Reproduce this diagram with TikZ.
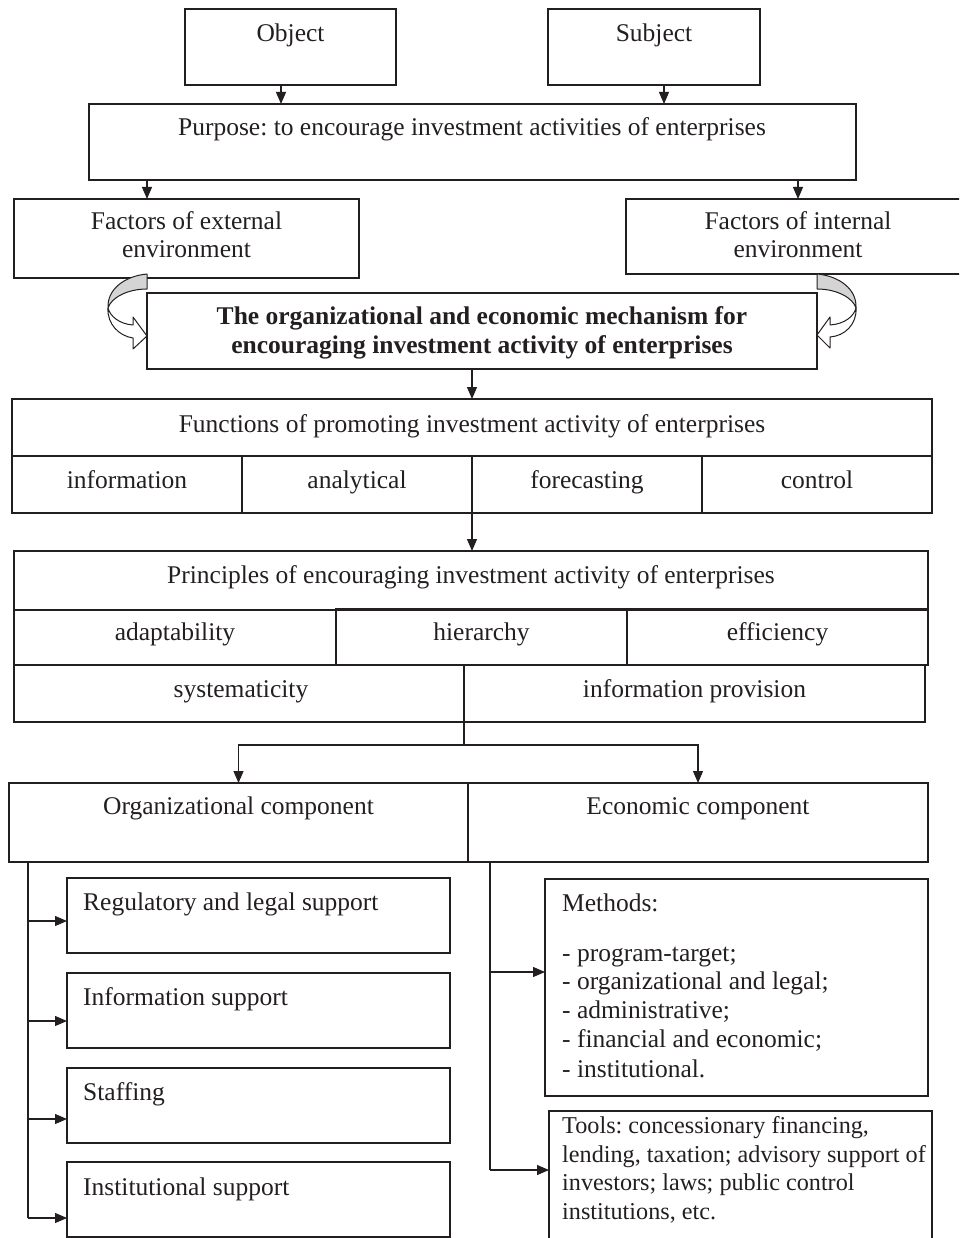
\documentclass[tikz,border=0pt]{standalone}
\usepackage{fontspec}
\setmainfont{Liberation Serif}
\usetikzlibrary{arrows.meta,calc}
\definecolor{ink}{RGB}{35,31,32}
\definecolor{rib}{RGB}{212,212,212}
\frenchspacing
% box from (x1,y1) to (x2,y2), y measured downwards
\newcommand\mkbox[5]{\node[box, minimum width={#4-#2}, minimum height={#5-#3}] (#1) at (#2,#3) {};}
\begin{document}
\begin{tikzpicture}[x=1pt,y=-1pt,
  box/.style={draw=ink, line width=1.2pt, rectangle, inner sep=0pt, outer sep=0pt, anchor=north west},
  txt/.style={anchor=base, inner sep=0pt, text=ink, font=\fontsize{25.5}{28.5}\selectfont},
  ltxt/.style={txt, anchor=base west},
  arr/.style={draw=ink, line width=1.2pt, -{Triangle[length=12pt,width=10pt]}},
  lnk/.style={draw=ink, line width=1.2pt},
  ribbon/.style={draw=ink, line width=1pt, line join=round},
]
\useasboundingbox (0,0) rectangle (959,1238);
\clip (0,0) rectangle (959,1238);

% ---------- boxes ----------
\mkbox{obj}{185}{9}{396}{85}
\mkbox{subj}{548}{9}{760}{85}
\mkbox{pur}{89}{104}{856}{180}
\mkbox{ext}{14}{199}{359}{278}
\mkbox{int}{626}{199}{970}{274}
\mkbox{mech}{147}{293}{817}{369}
\mkbox{fun}{12}{399}{932}{456}
\mkbox{fA}{12}{456}{242}{513}
\mkbox{fB}{242}{456}{472}{513}
\mkbox{fC}{472}{456}{702}{513}
\mkbox{fD}{702}{456}{932}{513}
\mkbox{pri}{14}{551}{928}{610}
\mkbox{pA}{14}{610}{336}{665}
\mkbox{pB}{336}{609}{627}{665}
\mkbox{pC}{627}{609}{928}{665}
\mkbox{pD}{14}{665}{464}{722}
\mkbox{pE}{464}{665}{925}{722}
\mkbox{org}{9}{783}{468}{862}
\mkbox{eco}{468}{783}{928}{862}
\mkbox{s1}{67}{878}{450}{953}
\mkbox{s2}{67}{973}{450}{1048}
\mkbox{s3}{67}{1068}{450}{1143}
\mkbox{s4}{67}{1162}{450}{1237}
\mkbox{met}{545}{879}{928}{1096}
\mkbox{tool}{549}{1111}{932}{1250}

% ---------- texts ----------
\node[txt] (tobj) at (290.5,42) {Object};
\node[txt] (tsubj) at (654,42) {Subject};
\node[txt] (tpur) at (472,136) {Purpose: to encourage investment activities of enterprises};
\node[txt] (text1) at (186.5,230) {Factors of external};
\node[txt] (text2) at (186.5,258) {environment};
\node[txt] (tint1) at (798,230) {Factors of internal};
\node[txt] (tint2) at (798,258) {environment};
\node[txt, font=\fontsize{25.5}{28.5}\selectfont\bfseries] (tmech1) at (482,324) {The organizational and economic mechanism for};
\node[txt, font=\fontsize{25.5}{28.5}\selectfont\bfseries] (tmech2) at (482,353) {encouraging investment activity of enterprises};
\node[txt] (tfun) at (472,432) {Functions of promoting investment activity of enterprises};
\node[txt] (tfA) at (127,488) {information};
\node[txt] (tfB) at (357,488) {analytical};
\node[txt] (tfC) at (587,488) {forecasting};
\node[txt] (tfD) at (817,488) {control};
\node[txt] (tpri) at (471,583) {Principles of encouraging investment activity of enterprises};
\node[txt] (tpA) at (175,640) {adaptability};
\node[txt] (tpB) at (481.5,640) {hierarchy};
\node[txt] (tpC) at (777.5,640) {efficiency};
\node[txt] (tpD) at (241,697) {systematicity};
\node[txt] (tpE) at (694.5,697) {information provision};
\node[txt] (torg) at (238.5,814) {Organizational component};
\node[txt] (teco) at (698,814) {Economic component};
\node[ltxt] (ts1) at (83,910) {Regulatory and legal support};
\node[ltxt] (ts2) at (83,1005) {Information support};
\node[ltxt] (ts3) at (83,1100) {Staffing};
\node[ltxt] (ts4) at (83,1195) {Institutional support};
\node[ltxt] (tmet0) at (562,911) {Methods:};
\foreach \t/\yy [count=\i] in {{- program-target;}/961, {- organizational and legal;}/989,
    {- administrative;}/1018, {- financial and economic;}/1047, {- institutional.}/1077}
  \node[ltxt] (tmet\i) at (562,\yy) {\t};
\foreach \t/\yy [count=\i] in {{Tools: concessionary financing,}/1133,
    {lending, taxation; advisory support of}/1162,
    {investors; laws; public control}/1190, {institutions, etc.}/1219}
  \node[ltxt, font=\fontsize{24.2}{28}\selectfont] (ttool\i) at (562,\yy) {\t};

% ---------- connectors ----------
\draw[arr] ([xshift=-9.5pt]obj.south) -- ([xshift=-9.5pt]obj.south |- pur.north);
\draw[arr] ([xshift=10pt]subj.south) -- ([xshift=10pt]subj.south |- pur.north);
\draw[arr] ([xshift=-39.5pt]ext.north |- pur.south) -- ([xshift=-39.5pt]ext.north);
\draw[arr] (int.north |- pur.south) -- (int.north);
\draw[arr] (fun.north |- mech.south) -- (fun.north);
\draw[arr] (fC.south west) -- (fC.south west |- pri.north);

\coordinate (split) at (464,745);
\draw[lnk] (split |- pD.south) -- (split);
\draw[arr] (split) -| (org.north);
\draw[arr] (split) -| (eco.north);

\coordinate (o1) at (28,921);
\coordinate (o2) at (28,1021);
\coordinate (o3) at (28,1119);
\coordinate (o4) at (28,1218);
\draw[lnk] (org.south -| o1) -- (o4);
\foreach \k in {1,2,3,4} \draw[arr] (o\k) -- (o\k -| s\k.west);

\coordinate (e1) at (490,972);
\coordinate (e2) at (490,1170);
\draw[lnk] (eco.south -| e1) -- (e2);
\draw[arr] (e1) -- (e1 -| met.west);
\draw[arr] (e2) -- (e2 -| tool.west);

% ---------- curled ribbons into the mechanism ----------
\begin{scope}[shift={(147,274)}, xscale=-1]
  \filldraw[ribbon, fill=white] (39,34) .. controls (40,50) and (28,62) .. (14,64)
    -- (14,75) -- (0,62) -- (14,43) -- (14,51)
    .. controls (28,50) and (37,42) .. (39,34) -- cycle;
  \filldraw[ribbon, fill=rib] (0,0) .. controls (22,2) and (40,15) .. (39,34)
    .. controls (36,24) and (20,15) .. (0,15) -- cycle;
\end{scope}
\begin{scope}[shift={(817,274)}]
  \filldraw[ribbon, fill=white] (39,34) .. controls (40,50) and (28,62) .. (13,63)
    -- (13,74) -- (0,61) -- (13,43) -- (13,51)
    .. controls (28,50) and (37,42) .. (39,34) -- cycle;
  \filldraw[ribbon, fill=rib] (0,0) .. controls (22,2) and (40,15) .. (39,34)
    .. controls (36,24) and (20,15) .. (0,15) -- cycle;
\end{scope}
\end{tikzpicture}
\end{document}
